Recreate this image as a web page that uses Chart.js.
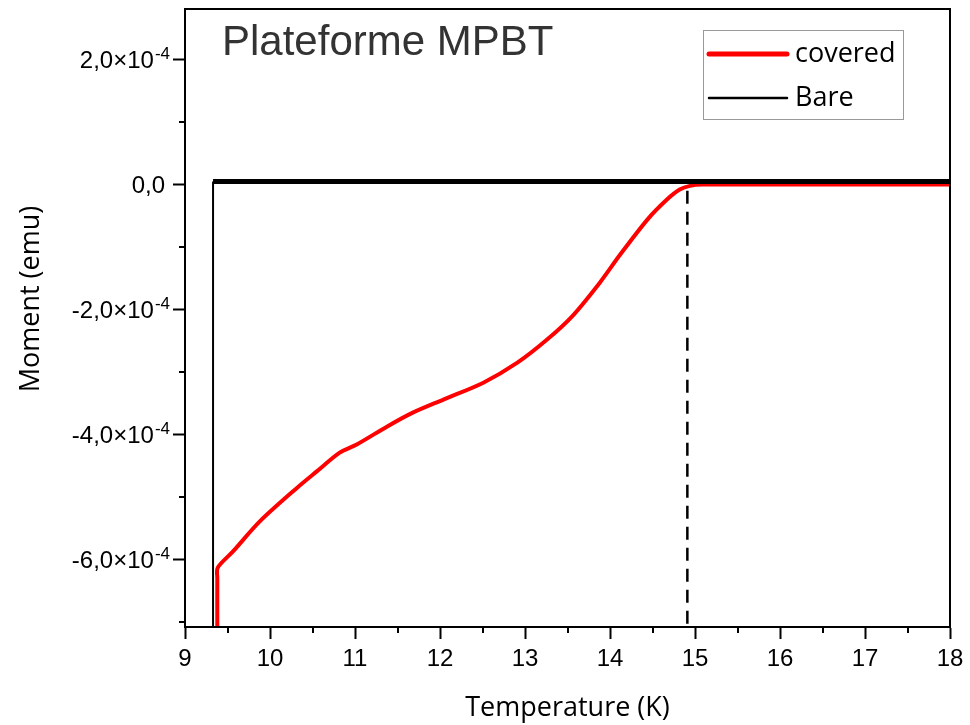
<!DOCTYPE html>
<html>
<head>
<meta charset="utf-8">
<script src="https://cdn.jsdelivr.net/npm/chart.js@4.4.1/dist/chart.umd.min.js"></script>
<style>
    html, body { margin: 0; padding: 0; background: #fff; }
    #wrap { width: 970px; height: 725px; }
</style>
</head>
<body>
<div id="wrap"><canvas id="momentChart" width="970" height="725"></canvas></div>
<script>
// values: temperature in K, moment in emu
const coveredTemp = [9.38, 9.38, 9.385, 9.565, 9.88, 10.32, 10.55, 10.82, 11.02, 11.38, 11.68, 12.04, 12.51, 12.91, 13.26, 13.56, 13.88, 14.12, 14.44, 14.67, 14.82, 14.94, 15.09, 16.0, 17.0, 18.0];
const coveredMoment = [-7.1e-4, -6.3e-4, -6.13e-4, -5.87e-4, -5.39e-4, -4.85e-4, -4.59e-4, -4.29e-4, -4.16e-4, -3.87e-4, -3.65e-4, -3.44e-4, -3.17e-4, -2.85e-4, -2.48e-4, -2.1e-4, -1.57e-4, -1.12e-4, -0.56e-4, -0.24e-4, -0.08e-4, -0.02e-4, 0, 0, 0, 0];

const bareTemp = [9.33, 9.33, 18.0];
const bareMoment = [-7.1e-4, 0.05e-4, 0.05e-4];

// dashed marker at the transition
const onsetTemp = [14.91, 14.91];
const onsetMoment = [-0.1e-4, -7.1e-4];

const xTicks = [9, 10, 11, 12, 13, 14, 15, 16, 17, 18];
const xMinorTicks = [9.5, 10.5, 11.5, 12.5, 13.5, 14.5, 15.5, 16.5, 17.5];
const yTicks = [-6e-4, -4e-4, -2e-4, 0, 2e-4];
const yTickMantissas = ['-6,0×10', '-4,0×10', '-2,0×10', '0,0', '2,0×10'];
const yTickExponents = ['-4', '-4', '-4', '', '-4'];
const yMinorTicks = [-7e-4, -5e-4, -3e-4, -1e-4, 1e-4];

const toPoints = (xs, ys) => xs.map((x, i) => ({ x: x, y: ys[i] }));

const TICK_FAMILY = '"Liberation Sans", Arial, sans-serif';
const LABEL_FAMILY = '"Open Sans", sans-serif';

// box around the plot, minor ticks, y tick labels with exponents, title, legend, y title
const decorations = {
    id: 'decorations',
    afterDraw(chart) {
        const ctx = chart.ctx;
        const area = chart.chartArea;
        const xScale = chart.scales.x;
        const yScale = chart.scales.y;

        ctx.save();
        ctx.strokeStyle = '#000';
        ctx.lineWidth = 2;
        ctx.strokeRect(area.left, area.top, area.right - area.left, area.bottom - area.top);

        ctx.beginPath();
        xMinorTicks.forEach(v => {
            const px = Math.round(xScale.getPixelForValue(v));
            ctx.moveTo(px, area.bottom);
            ctx.lineTo(px, area.bottom + 6);
        });
        yMinorTicks.forEach(v => {
            const py = Math.round(yScale.getPixelForValue(v));
            ctx.moveTo(area.left, py);
            ctx.lineTo(area.left - 6, py);
        });
        ctx.stroke();

        // y tick labels, mantissa plus raised exponent
        const labelRight = area.left - 20;
        ctx.fillStyle = '#000';
        ctx.textBaseline = 'alphabetic';
        yTicks.forEach((v, i) => {
            const py = yScale.getPixelForValue(v);
            const exp = yTickExponents[i];
            ctx.font = '17px ' + TICK_FAMILY;
            const expWidth = exp ? ctx.measureText(exp).width : 0;
            ctx.textAlign = 'left';
            if (exp) {
                ctx.fillText(exp, labelRight + 5 - expWidth, py - 1);
            }
            ctx.font = '24px ' + TICK_FAMILY;
            ctx.textAlign = 'right';
            ctx.fillText(yTickMantissas[i], exp ? labelRight + 4 - expWidth : labelRight, py + 8.5);
        });

        // title inside the plot
        ctx.fillStyle = '#333';
        ctx.font = '42px ' + TICK_FAMILY;
        ctx.textAlign = 'left';
        ctx.fillText('Plateforme MPBT', area.left + 37, area.top + 46);

        // legend
        const boxX = area.right - 247;
        const boxY = area.top + 21;
        ctx.strokeStyle = '#999';
        ctx.lineWidth = 1;
        ctx.strokeRect(boxX + 0.5, boxY + 0.5, 200, 89);
        const entries = chart.data.datasets
            .filter(ds => ds.legendRank !== undefined)
            .sort((a, b) => a.legendRank - b.legendRank);
        entries.forEach((ds, i) => {
            const rowY = boxY + 24 + i * 44;
            ctx.beginPath();
            ctx.strokeStyle = ds.borderColor;
            ctx.lineWidth = ds.legendWidth;
            ctx.lineCap = 'round';
            ctx.moveTo(boxX + 6, rowY);
            ctx.lineTo(boxX + 84, rowY);
            ctx.stroke();
            ctx.fillStyle = '#000';
            ctx.font = '27px ' + LABEL_FAMILY;
            ctx.textBaseline = 'middle';
            ctx.fillText(ds.label, boxX + 92, rowY);
        });

        // y axis title
        ctx.translate(31, (area.top + area.bottom) / 2 - 19);
        ctx.rotate(-Math.PI / 2);
        ctx.textAlign = 'center';
        ctx.textBaseline = 'middle';
        ctx.fillStyle = '#000';
        ctx.font = '27px ' + LABEL_FAMILY;
        ctx.fillText('Moment (emu)', 0, 0);
        ctx.restore();
    }
};

new Chart(document.getElementById('momentChart'), {
    type: 'line',
    data: {
        datasets: [
            {
                label: 'Bare',
                data: toPoints(bareTemp, bareMoment),
                borderColor: '#000',
                borderWidth: 5,
                segment: {
                    borderWidth: c => (c.p0DataIndex === 0 ? 2 : 5)
                },
                pointRadius: 0,
                tension: 0,
                order: 0,
                legendRank: 1,
                legendWidth: 2.5
            },
            {
                label: 'covered',
                data: toPoints(coveredTemp, coveredMoment),
                borderColor: '#ff0000',
                borderWidth: 4,
                pointRadius: 0,
                tension: 0.3,
                order: 1,
                legendRank: 0,
                legendWidth: 5
            },
            {
                label: 'onset',
                data: toPoints(onsetTemp, onsetMoment),
                borderColor: '#000',
                borderWidth: 2.5,
                borderDash: [13, 8],
                pointRadius: 0,
                tension: 0,
                order: 2
            }
        ]
    },
    options: {
        responsive: false,
        animation: false,
        events: [],
        layout: { padding: { top: 9, right: 20, bottom: 0, left: 0 } },
        plugins: {
            legend: { display: false },
            tooltip: { enabled: false }
        },
        scales: {
            x: {
                type: 'linear',
                min: 9,
                max: 18,
                afterBuildTicks: scale => { scale.ticks = xTicks.map(v => ({ value: v })); },
                afterFit: scale => {
                    scale.height = 98;
                    scale.paddingLeft = 0;
                    scale.paddingRight = 0;
                },
                border: { display: true, color: '#000', width: 2 },
                grid: { drawOnChartArea: false, drawTicks: true, tickLength: 12, tickWidth: 2, tickColor: '#000' },
                ticks: {
                    color: '#000',
                    font: { family: TICK_FAMILY, size: 24 },
                    padding: 6,
                    maxRotation: 0,
                    autoSkip: false,
                    callback: (value, index) => String(xTicks[index])
                },
                title: {
                    display: true,
                    text: 'Temperature (K)',
                    color: '#000',
                    font: { family: LABEL_FAMILY, size: 27 },
                    padding: { top: 0, bottom: 0 }
                }
            },
            y: {
                type: 'linear',
                min: -7.08e-4,
                max: 2.81e-4,
                afterBuildTicks: scale => { scale.ticks = yTicks.map(v => ({ value: v })); },
                afterFit: scale => {
                    scale.width = 185;
                    scale.paddingTop = 0;
                    scale.paddingBottom = 0;
                },
                border: { display: true, color: '#000', width: 2 },
                grid: { drawOnChartArea: false, drawTicks: true, tickLength: 12, tickWidth: 2, tickColor: '#000' },
                ticks: { display: false }
            }
        }
    },
    plugins: [decorations]
});
</script>
</body>
</html>
